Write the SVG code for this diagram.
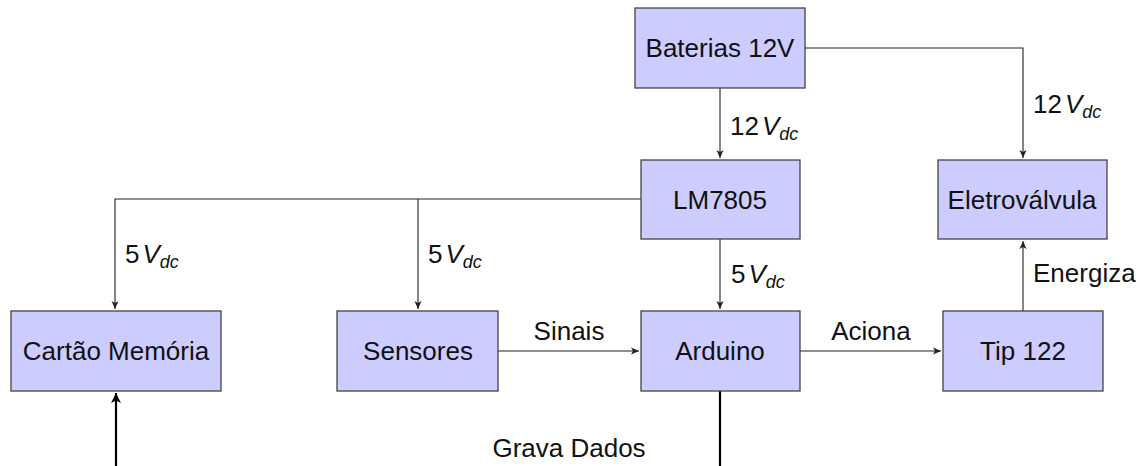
<svg xmlns="http://www.w3.org/2000/svg" width="1140" height="466" viewBox="0 0 1140 466">
<defs>
<style>
.box{fill:#ccccff;stroke:#444;stroke-width:1.3}
.lbl{font-family:"Liberation Sans",Arial,sans-serif;font-size:26px;fill:#111}
.c{text-anchor:middle}
.it{font-style:italic}
.sub{font-style:italic;font-size:18px}
.wire{fill:none;stroke:#222;stroke-width:1.1}
.thick{fill:none;stroke:#000;stroke-width:2.2}
</style>
<marker id="ah" markerUnits="userSpaceOnUse" markerWidth="10" markerHeight="10" refX="8" refY="4" orient="auto">
<path d="M0,0.5 L8,4 L0,7.5 L2,4 Z" fill="#222"/>
</marker>
<marker id="ahb" markerUnits="userSpaceOnUse" markerWidth="14" markerHeight="14" refX="10" refY="5" orient="auto">
<path d="M0,0 L10,5 L0,10 L2.5,5 Z" fill="#000"/>
</marker>
</defs>
<rect width="1140" height="466" fill="#fff"/>
<g id="connectors">
<path class="wire" d="M720,88 V158" marker-end="url(#ah)"/>
<path class="wire" d="M805,48 H1023 V158" marker-end="url(#ah)"/>
<path class="wire" d="M641,199 H115 V309" marker-end="url(#ah)"/>
<path class="wire" d="M418,199 V309" marker-end="url(#ah)"/>
<path class="wire" d="M720,239 V309" marker-end="url(#ah)"/>
<path class="wire" d="M498,351 H639" marker-end="url(#ah)"/>
<path class="wire" d="M800,351 H941" marker-end="url(#ah)"/>
<path class="wire" d="M1023,311 V241" marker-end="url(#ah)"/>
<path class="thick" d="M720,391 V490 H116 V393" marker-end="url(#ahb)"/>
<text class="lbl" x="730" y="135">12<tspan class="it" dx="3">V</tspan><tspan class="sub" dy="5">dc</tspan></text>
<text class="lbl" x="1033" y="113">12<tspan class="it" dx="3">V</tspan><tspan class="sub" dy="5">dc</tspan></text>
<text class="lbl" x="125" y="263">5<tspan class="it" dx="3">V</tspan><tspan class="sub" dy="5">dc</tspan></text>
<text class="lbl" x="428" y="263">5<tspan class="it" dx="3">V</tspan><tspan class="sub" dy="5">dc</tspan></text>
<text class="lbl" x="731" y="283">5<tspan class="it" dx="3">V</tspan><tspan class="sub" dy="5">dc</tspan></text>
<text class="lbl c" x="569" y="340">Sinais</text>
<text class="lbl c" x="871" y="340">Aciona</text>
<text class="lbl" x="1033" y="282">Energiza</text>
<text class="lbl c" x="569" y="457">Grava Dados</text>
</g>
<g id="baterias"><rect class="box" x="635" y="8" width="170" height="80"/><text class="lbl c" x="720" y="57">Baterias 12V</text></g>
<g id="lm7805"><rect class="box" x="641" y="160" width="159" height="79"/><text class="lbl c" x="720" y="209">LM7805</text></g>
<g id="eletrovalvula"><rect class="box" x="938" y="160" width="169" height="79"/><text class="lbl c" x="1022" y="209">Eletroválvula</text></g>
<g id="cartao"><rect class="box" x="11" y="311" width="210" height="80"/><text class="lbl c" x="116" y="360">Cartão Memória</text></g>
<g id="sensores"><rect class="box" x="337" y="311" width="161" height="80"/><text class="lbl c" x="418" y="360">Sensores</text></g>
<g id="arduino"><rect class="box" x="641" y="311" width="159" height="80"/><text class="lbl c" x="720" y="360">Arduino</text></g>
<g id="tip122"><rect class="box" x="943" y="311" width="160" height="80"/><text class="lbl c" x="1023" y="360">Tip 122</text></g>
</svg>
